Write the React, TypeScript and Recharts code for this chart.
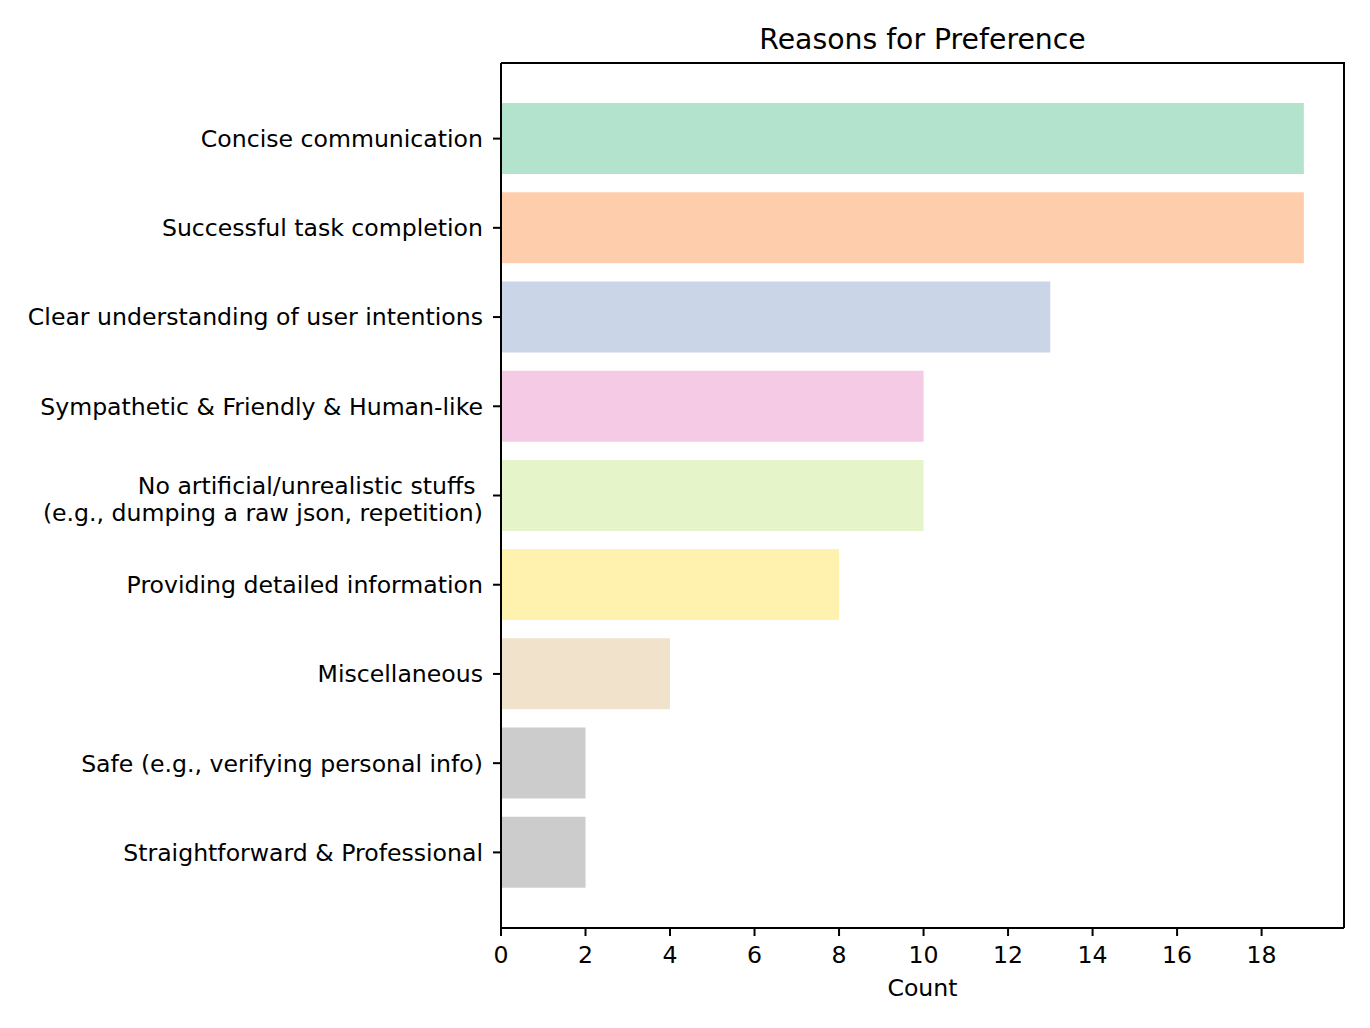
import React from "react";
import { BarChart, Bar, XAxis, YAxis, Cell } from "recharts";

const reasons = [
  "Concise communication",
  "Successful task completion",
  "Clear understanding of user intentions",
  "Sympathetic & Friendly & Human-like",
  "No artificial/unrealistic stuffs \n(e.g., dumping a raw json, repetition)",
  "Providing detailed information",
  "Miscellaneous",
  "Safe (e.g., verifying personal info)",
  "Straightforward & Professional",
];
const counts = [19, 19, 13, 10, 10, 8, 4, 2, 2];
const barColors = [
  "#b3e2cd",
  "#fdcdac",
  "#cbd5e8",
  "#f4cae4",
  "#e6f5c9",
  "#fff2ae",
  "#f1e2cc",
  "#cccccc",
  "#cccccc",
];
const xTicks = [0, 2, 4, 6, 8, 10, 12, 14, 16, 18];
const xMax = 19.95;
const title = "Reasons for Preference";
const xLabel = "Count";

const data = reasons.map((r, i) => ({ reason: r, count: counts[i] }));

const FONT = "DejaVu Sans, Verdana, sans-serif";
const FS = 23.6;

const W = 1370;
const H = 1028;
const M = { top: 63, right: 26, left: 0, bottom: 20 };
const Y_W = 501;
const X_H = 80;

const YTick = (props: any) => {
  const { x, y, payload } = props;
  const lines: string[] = String(payload.value).split("\n");
  const lh = 27;
  const start = lines.length > 1 ? -((lines.length - 1) * lh) / 2 + 3.5 : 0;
  return (
    <text
      x={x}
      y={y}
      textAnchor="end"
      fill="#000"
      fontSize={FS}
      fontFamily={FONT}
      style={{ whiteSpace: "pre" }}
    >
      {lines.map((l, i) => (
        <tspan key={i} x={x} y={y + start + i * lh} dy="0.355em">
          {l}
        </tspan>
      ))}
    </text>
  );
};

export default function App() {
  const axisStyle = { stroke: "#000", strokeWidth: 2 };
  const plotLeft = M.left + Y_W;
  const plotTop = M.top;
  const plotRight = W - M.right;
  const plotBottom = H - M.bottom - X_H;
  return (
    <div style={{ position: "absolute", left: 0, top: 0, width: W, height: H, background: "#fff" }}>
      <BarChart width={W} height={H} data={data} layout="vertical" margin={M}>
        <XAxis
          type="number"
          domain={[0, xMax]}
          ticks={xTicks}
          allowDataOverflow
          axisLine={axisStyle}
          tickLine={axisStyle}
          tickSize={8}
          tickMargin={10}
          height={X_H}
          tick={{ fontSize: FS, fill: "#000", fontFamily: FONT }}
          label={{
            value: xLabel,
            position: "insideBottom",
            offset: 12,
            fontSize: FS,
            fill: "#000",
            fontFamily: FONT,
          }}
        />
        <YAxis
          type="category"
          dataKey="reason"
          width={Y_W}
          interval={0}
          padding={{ top: 31, bottom: 31 }}
          axisLine={axisStyle}
          tickLine={axisStyle}
          tickSize={8}
          tickMargin={10}
          tick={<YTick />}
        />
        <Bar dataKey="count" barSize={71} isAnimationActive={false}>
          {data.map((d, i) => (
            <Cell key={d.reason} fill={barColors[i]} />
          ))}
        </Bar>
      </BarChart>
      <svg
        width={W}
        height={H}
        style={{ position: "absolute", left: 0, top: 0, pointerEvents: "none" }}
      >
        <path
          d={`M${plotLeft},${plotTop} H${plotRight} V${plotBottom}`}
          fill="none"
          stroke="#000"
          strokeWidth={2}
        />
        <text x={(plotLeft + plotRight) / 2} y={49} textAnchor="middle" fontSize={28.3} fill="#000" fontFamily={FONT}>
          {title}
        </text>
      </svg>
    </div>
  );
}
